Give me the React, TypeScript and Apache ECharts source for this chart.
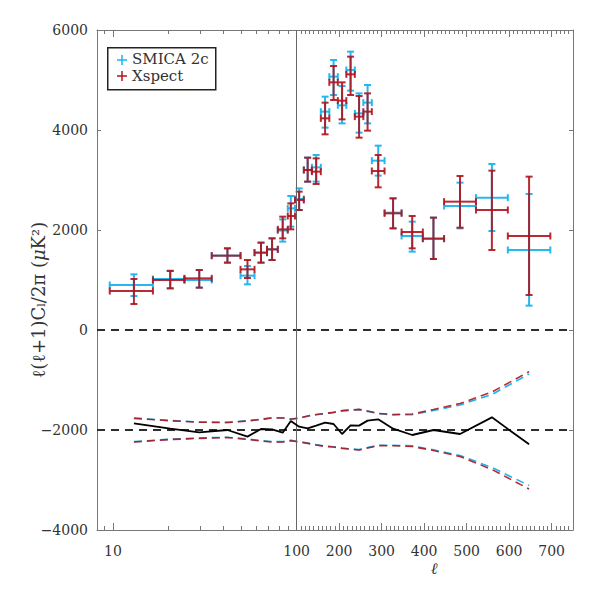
import React, { useEffect, useRef } from "react";
import * as echarts from "echarts";

// ---------- data ----------
const binCenter = [13, 20.5, 29.5, 42, 54, 64, 73.5, 84, 93, 106, 126, 146, 167, 187, 207, 227, 247, 267, 292, 327, 372, 422, 484.5, 559.5, 647];
const binLo = [9.6, 16.5, 24.5, 34.5, 49.5, 59, 69, 79, 89.5, 98, 117, 136, 157, 177, 197, 217, 237, 257, 277, 307, 347, 397, 447, 522, 597];
const binHi = [16.5, 24.5, 34.5, 49.5, 59, 69, 79, 89.5, 98, 117, 136, 157, 177, 197, 217, 237, 257, 277, 307, 347, 397, 447, 522, 597, 697];

const smicaVal = [900, 1020, 1000, 1487, 1087, 1547, 1613, 1990, 2433, 2620, 3200, 3253, 4367, 5067, 4493, 5200, 4333, 4547, 3387, 2347, 1880, 1827, 2480, 2647, 1600];
const smicaLo = [680, 833, 847, 1347, 913, 1347, 1400, 1767, 2067, 2400, 2967, 2967, 4047, 4700, 4133, 4787, 3947, 4133, 3087, 2033, 1567, 1420, 2033, 1980, 487];
const smicaHi = [1113, 1187, 1200, 1633, 1280, 1747, 1833, 2213, 2680, 2833, 3447, 3500, 4667, 5400, 4880, 5567, 4733, 4900, 3687, 2633, 2167, 2247, 2947, 3320, 2720];

const xspectVal = [780, 1000, 1033, 1487, 1213, 1547, 1613, 2013, 2280, 2600, 3200, 3167, 4233, 4953, 4587, 5113, 4267, 4367, 3180, 2333, 1960, 1827, 2567, 2400, 1880];
const xspectLo = [520, 833, 847, 1347, 1040, 1347, 1400, 1833, 2013, 2400, 2967, 2920, 3913, 4600, 4213, 4700, 3847, 3987, 2853, 2033, 1633, 1420, 2047, 1600, 700];
const xspectHi = [1020, 1180, 1200, 1633, 1400, 1747, 1833, 2267, 2533, 2767, 3447, 3433, 4547, 5280, 4953, 5467, 4680, 4733, 3500, 2633, 2280, 2247, 3080, 3187, 3067];

// lower panel (offset to -2000)
const diffVal = [-1867, -1973, -2047, -2000, -2133, -1980, -1987, -2053, -1820, -1933, -1967, -1913, -1853, -1880, -2080, -1907, -1913, -1813, -1787, -1973, -2100, -2000, -2080, -1747, -2287];
const envUpperRed = [-1767, -1815, -1845, -1850, -1820, -1790, -1760, -1760, -1785, -1760, -1720, -1690, -1670, -1647, -1613, -1600, -1587, -1620, -1667, -1690, -1680, -1590, -1470, -1240, -833];
const envLowerRed = [-2240, -2190, -2167, -2150, -2187, -2220, -2240, -2240, -2213, -2240, -2267, -2300, -2330, -2340, -2367, -2385, -2400, -2360, -2313, -2315, -2330, -2410, -2530, -2790, -3180];
const envUpperCyan = [-1760, -1810, -1840, -1848, -1815, -1785, -1755, -1755, -1780, -1765, -1725, -1695, -1672, -1650, -1618, -1605, -1592, -1628, -1672, -1698, -1692, -1610, -1500, -1290, -880];
const envLowerCyan = [-2232, -2185, -2160, -2145, -2180, -2212, -2232, -2232, -2208, -2232, -2260, -2292, -2322, -2335, -2360, -2378, -2392, -2352, -2306, -2305, -2318, -2395, -2510, -2750, -3110];

const xMajorLabels = [10, 100, 200, 300, 400, 500, 600, 700];
const yTickValues = [-4000, -2000, 0, 2000, 4000, 6000];

// ---------- hybrid axis transform: log up to 100, linear above ----------
const LIN = 432;
const T = (l: number) => (l <= 100 ? Math.log10(l) : 2 + (l - 100) / LIN);
const X_MIN = 0.9129;
const X_MAX = 3.5054;

const xMinor: number[] = [];
for (let v = 8; v < 100; v++) {
  if (v < 10 && v >= 8) xMinor.push(v);
  else if (v > 10 && v % 10 === 0) xMinor.push(v);
}
for (let v = 110; v <= 740; v += 10) if (v % 100 !== 0) xMinor.push(v);

const CYAN = "#1ab4ee";
const RED = "#b0141e";
const FONT = "DejaVu Serif";
const TXT = "#333";

function errSeries(name: string, color: string, opacity: number, vals: number[], lo: number[], hi: number[], z: number) {
  const data = binCenter.map((c, i) => [T(c), vals[i], T(binLo[i]), T(binHi[i]), lo[i], hi[i]]);
  return {
    name,
    type: "custom",
    xAxisIndex: 0,
    yAxisIndex: 0,
    z,
    encode: { x: [0, 2, 3], y: [1, 4, 5] },
    data,
    renderItem: (params: any, api: any) => {
      const c = api.coord([api.value(0), api.value(1)]);
      const l = api.coord([api.value(2), api.value(1)]);
      const r = api.coord([api.value(3), api.value(1)]);
      const b = api.coord([api.value(0), api.value(4)]);
      const t = api.coord([api.value(0), api.value(5)]);
      const cap = 3.5;
      const style = { stroke: color, lineWidth: 2, opacity };
      const ln = (x1: number, y1: number, x2: number, y2: number) => ({ type: "line", shape: { x1, y1, x2, y2 }, style });
      return {
        type: "group",
        children: [
          ln(l[0], c[1], r[0], c[1]),
          ln(l[0], c[1] - cap, l[0], c[1] + cap),
          ln(r[0], c[1] - cap, r[0], c[1] + cap),
          ln(c[0], t[1], c[0], b[1]),
          ln(c[0] - cap, t[1], c[0] + cap, t[1]),
          ln(c[0] - cap, b[1], c[0] + cap, b[1]),
        ],
      };
    },
  };
}

function lineData(vals: number[]) {
  return binCenter.map((c, i) => [T(c), vals[i]]);
}

function plusMarker(cx: number, cy: number, color: string) {
  const s = 5;
  const st = { stroke: color, lineWidth: 1.5 };
  return [
    { type: "line", z: 11, shape: { x1: cx - s, y1: cy, x2: cx + s, y2: cy }, style: st },
    { type: "line", z: 11, shape: { x1: cx, y1: cy - s, x2: cx, y2: cy + s }, style: st },
  ];
}

export default function App() {
  const ref = useRef<HTMLDivElement>(null);
  useEffect(() => {
    if (!ref.current) return;
    const chart = echarts.init(ref.current, null, { renderer: "svg" });
    const majorT = xMajorLabels.map(T);
    const minorT = xMinor.map(T);
    const axisCol = "#777";
    const baseX = (position: string, ticks: number[], len: number, showLine: boolean, labels: boolean) => ({
      type: "value",
      position,
      min: X_MIN,
      max: X_MAX,
      axisLine: { show: showLine, onZero: false, lineStyle: { color: axisCol, width: 1 } },
      axisTick: { show: true, inside: true, length: len, customValues: ticks, lineStyle: { color: axisCol, width: 1 } },
      axisLabel: labels
        ? {
            show: true,
            customValues: majorT,
            margin: 14,
            fontFamily: FONT,
            fontSize: 14,
            color: TXT,
            formatter: (v: number) => {
              let best = 0;
              majorT.forEach((t, i) => { if (Math.abs(t - v) < Math.abs(majorT[best] - v)) best = i; });
              return String(xMajorLabels[best]);
            },
          }
        : { show: false },
      splitLine: { show: false },
    });
    const baseY = (position: string, labels: boolean) => ({
      type: "value",
      position,
      min: -4000,
      max: 6000,
      interval: 2000,
      axisLine: { show: true, onZero: false, lineStyle: { color: axisCol, width: 1 } },
      axisTick: { show: true, inside: true, length: 4, lineStyle: { color: axisCol, width: 1 } },
      axisLabel: labels
        ? {
            show: true,
            margin: 9,
            fontFamily: FONT,
            fontSize: 14,
            color: TXT,
            customValues: yTickValues,
            formatter: (v: number) => (v < 0 ? "\u2212" + Math.abs(v) : String(v)),
          }
        : { show: false },
      splitLine: { show: false },
    });

    const option: any = {
      animation: false,
      backgroundColor: "#ffffff",
      grid: { left: 97, right: 18, top: 30, bottom: 61, containLabel: false },
      xAxis: [
        baseX("bottom", majorT, 7, true, true),
        baseX("bottom", minorT, 4, false, false),
        baseX("top", majorT, 7, true, false),
        baseX("top", minorT, 4, false, false),
      ],
      yAxis: [baseY("left", true), baseY("right", false)],
      series: [
        errSeries("SMICA 2c", CYAN, 0.95, smicaVal, smicaLo, smicaHi, 3),
        errSeries("Xspect", RED, 0.9, xspectVal, xspectLo, xspectHi, 4),
        {
          name: "envUpperCyan", type: "line", data: lineData(envUpperCyan), showSymbol: false, symbol: "none", z: 2,
          lineStyle: { color: CYAN, width: 1.6, type: [8, 5] },
        },
        {
          name: "envLowerCyan", type: "line", data: lineData(envLowerCyan), showSymbol: false, symbol: "none", z: 2,
          lineStyle: { color: CYAN, width: 1.6, type: [8, 5] },
        },
        {
          name: "envUpperRed", type: "line", data: lineData(envUpperRed), showSymbol: false, symbol: "none", z: 3,
          lineStyle: { color: RED, width: 1.6, type: [8, 5], opacity: 0.9 },
        },
        {
          name: "envLowerRed", type: "line", data: lineData(envLowerRed), showSymbol: false, symbol: "none", z: 3,
          lineStyle: { color: RED, width: 1.6, type: [8, 5], opacity: 0.9 },
        },
        {
          name: "difference", type: "line", data: lineData(diffVal), showSymbol: false, symbol: "none", z: 5,
          lineStyle: { color: "#000", width: 1.8 },
          markLine: {
            silent: true,
            symbol: ["none", "none"],
            label: { show: false },
            animation: false,
            data: [
              { yAxis: 0, lineStyle: { color: "#2e2e2e", width: 2, type: [8, 6] } },
              { yAxis: -2000, lineStyle: { color: "#2e2e2e", width: 2, type: [8, 6] } },
              { xAxis: T(100), lineStyle: { color: "#666", width: 1, type: "solid" } },
            ],
          },
        },
      ],
      graphic: [
        {
          type: "rect", left: 107, top: 47, z: 10,
          shape: { x: 0, y: 0, width: 108, height: 42 },
          style: { fill: "#fff", stroke: "#222", lineWidth: 1.5 },
        },
        ...plusMarker(122, 60, CYAN),
        { type: "text", x: 132, y: 59, z: 11, style: { text: "SMICA 2c", fill: TXT, font: `15px "${FONT}"`, lineHeight: 15, align: "left", verticalAlign: "middle" } },
        ...plusMarker(122, 76, RED),
        { type: "text", x: 132, y: 76, z: 11, style: { text: "Xspect", fill: TXT, font: `15px "${FONT}"`, lineHeight: 15, align: "left", verticalAlign: "middle" } },
        {
          type: "text", x: 38, y: 300, rotation: Math.PI / 2, z: 11,
          style: {
            text: "\u2113(\u2113+1)C{sub|l}/2\u03c0 ({it|\u03bc}K\u00b2)",
            fill: TXT, font: `18px "${FONT}"`, align: "center", verticalAlign: "middle",
            rich: {
              sub: { fontFamily: FONT, fontSize: 11, fill: TXT, verticalAlign: "bottom", padding: [7, 0, 0, 0] },
              it: { fontFamily: FONT, fontSize: 18, fontStyle: "italic", fill: TXT },
            },
          },
        },
        { type: "text", x: 434, y: 568, z: 11, style: { text: "\u2113", fill: TXT, font: `italic 16px "${FONT}"`, align: "center", verticalAlign: "middle" } },
      ],
    };
    chart.setOption(option);
    return () => chart.dispose();
  }, []);
  return <div ref={ref} style={{ position: "fixed", left: 0, top: 0, width: 591, height: 591, background: "#fff" }} />;
}
